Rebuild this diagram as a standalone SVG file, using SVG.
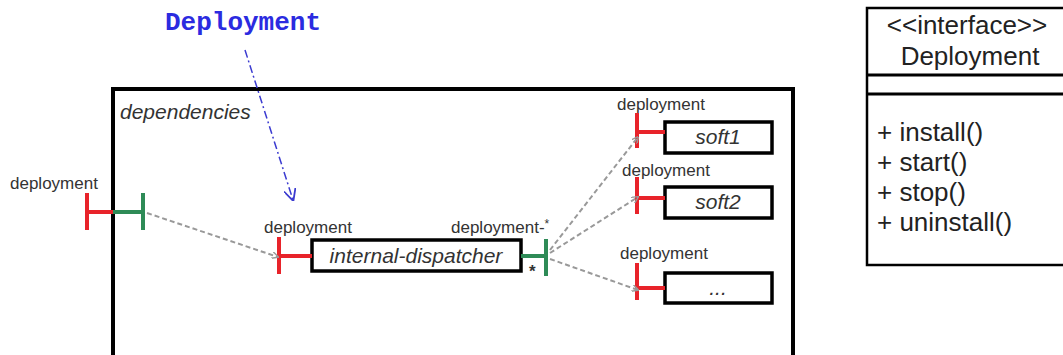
<svg xmlns="http://www.w3.org/2000/svg" width="1063" height="355" viewBox="0 0 1063 355">
<style>
.lbl{font-family:"Liberation Sans",Arial,sans-serif;font-size:17px;fill:#333}
.name{font-family:"Liberation Sans",Arial,sans-serif;font-size:21px;font-style:italic;fill:#333}
.uml{font-family:"Liberation Sans",Arial,sans-serif;font-size:26px;fill:#222}
.box{fill:#fff;stroke:#000;stroke-width:3.5}
.red{stroke:#e8232a;stroke-width:4;fill:none}
.grn{stroke:#2e8b57;stroke-width:4;fill:none}
.dash{stroke:#999;stroke-width:2;stroke-dasharray:5,3;fill:none}
</style>
<defs>
<marker id="ga" viewBox="0 0 10 10" refX="9" refY="5" markerWidth="7" markerHeight="7" orient="auto" markerUnits="userSpaceOnUse">
<path d="M0,0 L10,5 L0,10" fill="none" stroke="#999" stroke-width="2"/>
</marker>
<marker id="ba" viewBox="0 0 10 10" refX="9" refY="5" markerWidth="12" markerHeight="12" orient="auto" markerUnits="userSpaceOnUse">
<path d="M0,0 L10,5 L0,10" fill="none" stroke="#3b3bd0" stroke-width="1.5"/>
</marker>
</defs>

<g id="note">
<text x="165" y="30" font-family="Liberation Mono,monospace" font-weight="bold" font-size="26" fill="#2b2be0">Deployment</text>
</g>

<g id="composite">
<rect x="113" y="89" width="680" height="280" fill="none" stroke="#000" stroke-width="4"/>
<text x="120" y="119" class="name" font-size="20.5">dependencies</text>
<text x="10" y="189" class="lbl">deployment</text>
<path class="red" d="M87,193 V230 M87,212 H113"/>
<path class="grn" d="M113,212 H143 M143,193 V230"/>
</g>

<g id="dispatcher">
<rect class="box" x="312" y="240" width="209" height="31"/>
<text x="416" y="263" class="name" text-anchor="middle">internal-dispatcher</text>
<text x="264" y="233" class="lbl">deployment</text>
<path class="red" d="M279,237 V274 M279,256 H312"/>
<text x="451" y="233" class="lbl">deployment-<tspan font-size="12" dy="-5">*</tspan></text>
<path class="grn" d="M521,256 H546 M546,239 V276"/>
<text x="529" y="277" class="lbl" font-size="15" font-weight="bold">*</text>
</g>

<g id="soft1">
<rect class="box" x="665" y="122" width="107" height="31"/>
<text x="718" y="144" class="name" text-anchor="middle">soft1</text>
<text x="617" y="110" class="lbl">deployment</text>
<path class="red" d="M637,113 V148 M637,132 H665"/>
</g>

<g id="soft2">
<rect class="box" x="665" y="187" width="107" height="31"/>
<text x="718" y="209" class="name" text-anchor="middle">soft2</text>
<text x="622" y="176" class="lbl">deployment</text>
<path class="red" d="M637,177 V214 M637,198 H665"/>
</g>

<g id="soft3">
<rect class="box" x="665" y="273" width="107" height="30"/>
<text x="718" y="295" class="name" text-anchor="middle" fill="#888">...</text>
<text x="620" y="259" class="lbl">deployment</text>
<path class="red" d="M637,263 V300 M637,288 H665"/>
</g>

<g id="interface">
<rect x="867" y="8" width="210" height="257" fill="#fff" stroke="#000" stroke-width="2.5"/>
<line x1="867" y1="75" x2="1070" y2="75" stroke="#000" stroke-width="3"/>
<line x1="867" y1="94" x2="1070" y2="94" stroke="#000" stroke-width="3"/>
<text x="967" y="34" class="uml" text-anchor="middle" font-size="24">&lt;&lt;interface&gt;&gt;</text>
<text x="970" y="65" class="uml" text-anchor="middle" font-size="25">Deployment</text>
<text x="877" y="141" class="uml">+ install()</text>
<text x="877" y="171" class="uml">+ start()</text>
<text x="877" y="201" class="uml">+ stop()</text>
<text x="877" y="231" class="uml">+ uninstall()</text>
</g>

<g id="connectors">
<path d="M245,50 L293,200" fill="none" stroke="#3b3bd0" stroke-width="1.5" stroke-dasharray="8,3,2,3" marker-end="url(#ba)"/>
<path class="dash" d="M147,213 L278,257" marker-end="url(#ga)"/>
<path class="dash" d="M550,250 L638,137" marker-end="url(#ga)"/>
<path class="dash" d="M550,253 L638,197" marker-end="url(#ga)"/>
<path class="dash" d="M550,259 L638,290" marker-end="url(#ga)"/>
</g>
</svg>
